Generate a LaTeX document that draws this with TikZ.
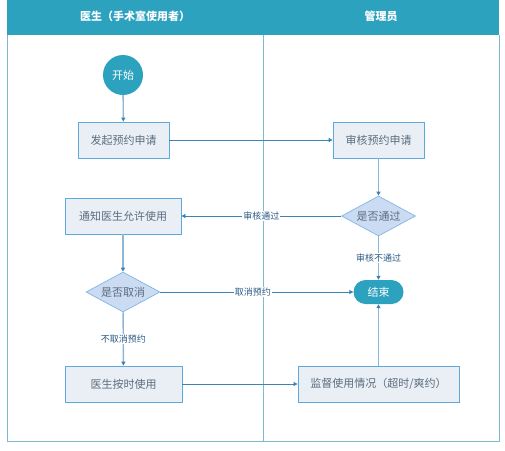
\documentclass[tikz,border=0pt]{standalone}
\usepackage{fontspec}
\setmainfont{Noto Sans CJK SC}
\usetikzlibrary{shapes.geometric,shapes.misc,arrows.meta}
\definecolor{teal}{HTML}{2CA2BF}
\definecolor{boxfill}{HTML}{E9EFF4}
\definecolor{boxline}{HTML}{5DA9DC}
\definecolor{dmfill}{HTML}{CBDBF1}
\definecolor{dmline}{HTML}{7FB6E6}
\definecolor{lane}{HTML}{7DBAD2}
\definecolor{conn}{HTML}{3C83B4}
\definecolor{vconn}{HTML}{8DB5D6}
\definecolor{txt}{HTML}{5C6C80}
\definecolor{lbl}{HTML}{2B5A86}
\tikzset{
  x=1pt,y=-1pt,
  procbox/.style={draw=boxline,fill=boxfill,line width=0.8pt,minimum height=36pt,text=txt,font=\fontsize{11}{13}\selectfont,inner sep=0pt},
  decide/.style={diamond,aspect=1.85,draw=dmline,fill=dmfill,line width=0.7pt,text=txt,font=\fontsize{11}{13}\selectfont,inner sep=0pt,minimum width=74pt,minimum height=40pt},
  term/.style={fill=teal,text=white,font=\fontsize{11}{13}\selectfont},
  flow/.style={draw=conn,line width=0.8pt,-{Triangle[length=4pt,width=4pt]}},
  vflow/.style={draw=vconn,line width=1.4pt,-{Triangle[length=4pt,width=4pt,fill=conn,color=conn]}},
  elabel/.style={fill=white,text=lbl,font=\fontsize{9}{10}\selectfont,inner sep=1pt},
  hdr/.style={text=white,font=\fontsize{11}{13}\selectfont\bfseries}
}
\begin{document}
\begin{tikzpicture}
\useasboundingbox (0,0) rectangle (505,450);
% swimlane frame
\fill[teal] (7,0) rectangle (499,35);
\draw[lane,line width=0.8pt] (7,35) -- (7,441.5) -- (499,441.5) -- (499,35);
\draw[lane,line width=0.8pt] (263,35) -- (263,441.5);
\node[hdr] (h1) at (135,16) {医生（手术室使用者）};
\node[hdr] (h2) at (381,16) {管理员};
% nodes
\node[term,circle,minimum size=40pt,inner sep=0pt] (start) at (123,75) {开始};
\node[procbox,minimum width=91pt] (apply) at (123.5,140) {发起预约申请};
\node[procbox,minimum width=91pt] (review) at (378.5,140) {审核预约申请};
\node[decide] (pass) at (378.5,216) {是否通过};
\node[procbox,minimum width=116pt] (notify) at (123,216) {通知医生允许使用};
\node[decide] (cancel) at (123,292) {是否取消};
\node[term,rounded rectangle,minimum width=50pt,minimum height=24pt,inner sep=0pt] (end) at (378.5,292) {结束};
\node[procbox,minimum width=117pt] (use) at (123.5,384) {医生按时使用};
\node[procbox,minimum width=161pt] (monitor) at (378.5,384) {监督使用情况（超时/爽约）};
% connectors
\draw[vflow] (start) -- (apply);
\draw[flow] (apply) -- (review);
\draw[vflow] (review) -- (pass);
\draw[flow] (pass) -- node[elabel,pos=0.5] (l1) {审核通过} (notify);
\draw[vflow] (pass) -- node[elabel,pos=0.5] (l2) {审核不通过} (end);
\draw[vflow] (notify) -- (cancel);
\draw[flow] (cancel) -- node[elabel,pos=0.48] (l3) {取消预约} (end);
\draw[vflow] (cancel) -- node[elabel,pos=0.5] (l4) {不取消预约} (use);
\draw[flow] (use) -- (monitor);
\draw[vflow] (monitor) -- (end);
\end{tikzpicture}
\end{document}
